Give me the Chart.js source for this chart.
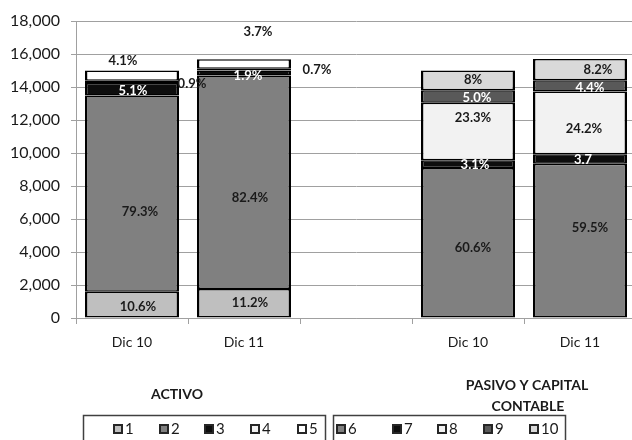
<!DOCTYPE html>
<html>
<head>
<meta charset="utf-8">
<script src="https://cdn.jsdelivr.net/npm/chart.js@4"></script>
<style>
  html, body { margin: 0; padding: 0; background: #fff; overflow: hidden; }
  #wrap { width: 632px; height: 440px; overflow: hidden; }
</style>
</head>
<body>
<div id="wrap"><canvas id="myChart" width="640" height="440"></canvas></div>
<script>
// categories: 2 activo bars, a gap, 2 pasivo bars
const categories = ["Dic 10", "Dic 11", "", "Dic 10", "Dic 11"];
const seriesNames = ["1", "2", "3", "4", "5", "6", "7", "8", "9", "10"];

// activo
const serie1 = [1590, 1758, null, null, null];
const serie2 = [11895, 12937, null, null, null];
const serie3 = [765, 298, null, null, null];
const serie4 = [135, 110, null, null, null];
const serie5 = [615, 581, null, null, null];
// pasivo y capital contable
const serie6 = [null, null, null, 9090, 9342];
const serie7 = [null, null, null, 465, 581];
const serie8 = [null, null, null, 3495, 3799];
const serie9 = [null, null, null, 750, 691];
const serie10 = [null, null, null, 1200, 1287];

// percentage labels as printed on the bars
const pct1 = ["10.6%", "11.2%", null, null, null];
const pct2 = ["79.3%", "82.4%", null, null, null];
const pct3 = ["5.1%", "1.9%", null, null, null];
const pct4 = ["0.9%", "0.7%", null, null, null];
const pct5 = ["4.1%", "3.7%", null, null, null];
const pct6 = [null, null, null, "60.6%", "59.5%"];
const pct7 = [null, null, null, "3.1%", "3.7"];
const pct8 = [null, null, null, "23.3%", "24.2%"];
const pct9 = [null, null, null, "5.0%", "4.4%"];
const pct10 = [null, null, null, "8%", "8.2%"];

const yTicks = [0, 2000, 4000, 6000, 8000, 10000, 12000, 14000, 16000, 18000];

window.onload = function () {
  const canvas = document.getElementById("myChart");
  const ctx = canvas.getContext("2d");

  const FONT = "Lato, 'Liberation Sans', sans-serif";
  const colors = ["#bfbfbf", "#808080", "#0d0d0d", "#f2f2f2", "#ffffff",
                  "#808080", "#0d0d0d", "#f2f2f2", "#595959", "#d9d9d9"];
  const allSeries = [serie1, serie2, serie3, serie4, serie5, serie6, serie7, serie8, serie9, serie10];
  const allPct = [pct1, pct2, pct3, pct4, pct5, pct6, pct7, pct8, pct9, pct10];

  // where excel left the labels, relative to the segment centre
  const labelShift = [
    [[6, 2], [6, 0]],
    [[8, 18], [6, 16]],
    [[1, 2], [4, 3]],
    [[60, 2], [73, 0]],
    [[-9, -15], [14, -32]],
    [[5, 5], [10, -13]],
    [[7, 1], [3, 1]],
    [[5, -14], [4, 6]],
    [[9, 1], [10, 2]],
    [[5, -1], [18, 0]],
  ];
  const whiteText = [2, 6, 8];

  const datasets = allSeries.map((d, i) => ({
    label: seriesNames[i],
    data: d,
    backgroundColor: colors[i],
    borderColor: "#000",
    borderWidth: { top: 1.5, bottom: 1.5, left: 2.5, right: 2.5 },
    borderSkipped: false,
    barPercentage: 0.84,
    categoryPercentage: 1,
    stack: "s",
  }));

  const labelPlugin = {
    id: "segLabels",
    afterDatasetsDraw(chart) {
      const c = chart.ctx;
      c.save();
      c.font = "bold 13px " + FONT;
      c.textAlign = "center";
      c.textBaseline = "middle";
      chart.data.datasets.forEach((ds, i) => {
        const meta = chart.getDatasetMeta(i);
        let k = 0;
        meta.data.forEach((el, j) => {
          const txt = allPct[i][j];
          if (!txt) return;
          const sh = labelShift[i][k++] || [0, 0];
          c.fillStyle = whiteText.includes(i) ? "#fff" : "#1a1a1a";
          c.fillText(txt, el.x + sh[0], (el.y + el.base) / 2 + sh[1]);
        });
      });
      c.restore();
    },
  };

  const legendPlugin = {
    id: "twoLegends",
    afterDraw(chart) {
      const c = chart.ctx;
      c.save();
      c.strokeStyle = "#404040";
      c.lineWidth = 1.5;
      c.strokeRect(83.5, 415.5, 242, 30);
      c.strokeRect(333.5, 415.5, 232, 30);

      const xs = [113, 159, 204, 250, 297, 336, 392, 437, 483, 529];
      c.font = "15px " + FONT;
      c.textBaseline = "middle";
      c.textAlign = "left";
      xs.forEach((x, i) => {
        c.fillStyle = colors[i];
        c.fillRect(x, 424, 10, 10);
        c.strokeStyle = "#262626";
        c.lineWidth = 2;
        c.strokeRect(x + 1, 425, 8, 8);
        c.fillStyle = "#1a1a1a";
        c.fillText(seriesNames[i], x + 12, 429.5);
      });

      c.font = "bold 14px " + FONT;
      c.textAlign = "center";
      c.fillText("ACTIVO", 177, 394);
      c.fillText("PASIVO Y CAPITAL", 527, 385);
      c.fillText("CONTABLE", 528, 406);
      c.restore();
    },
  };

  new Chart(ctx, {
    type: "bar",
    data: { labels: categories, datasets: datasets },
    options: {
      responsive: false,
      animation: false,
      layout: { padding: { left: 0, right: 4, top: 21, bottom: 0 } },
      plugins: {
        legend: { display: false },
        tooltip: { enabled: false },
      },
      scales: {
        x: {
          stacked: true,
          grid: { drawOnChartArea: false, color: "#a0a0a0", tickLength: 6 },
          border: { color: "#a0a0a0" },
          ticks: { color: "#1a1a1a", font: { family: FONT, size: 14 }, padding: 10 },
          afterFit: (scale) => { scale.height = 122; },
        },
        y: {
          stacked: true,
          min: 0,
          max: 18000,
          grid: { color: "#a0a0a0", tickLength: 5 },
          border: { color: "#a0a0a0" },
          afterBuildTicks: (scale) => { scale.ticks = yTicks.map((v) => ({ value: v })); },
          ticks: {
            color: "#1a1a1a",
            font: { family: FONT, size: 16 },
            padding: 11,
            callback: (v) => v.toLocaleString("en-US"),
          },
          afterFit: (scale) => { scale.width = 76; },
        },
      },
    },
    plugins: [labelPlugin, legendPlugin],
  });
};
</script>
</body>
</html>
